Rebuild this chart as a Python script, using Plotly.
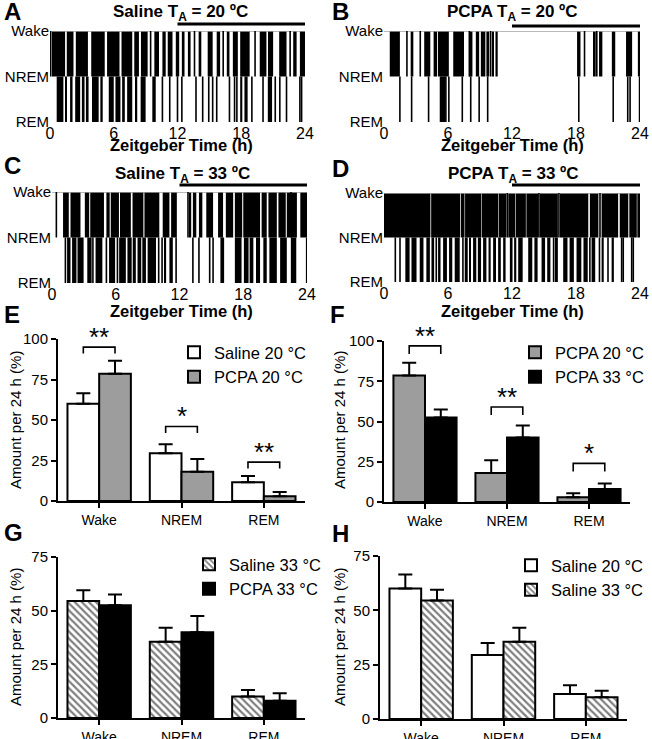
import plotly.graph_objects as go

W, H = 652, 739
FONT = "Arial, Liberation Sans, sans-serif"

# ---------------- hypnogram data (Zeitgeber hours) ----------------
HOURS = [0, 6, 12, 18, 24]
DARK_PHASE = [12, 24]
LEVELS = {"REM": 0, "NREM": 1, "Wake": 2}

# A: saline, 20 C
a_wn_blocks = [(0.16, 1.42), (1.58, 2.21), (2.43, 3.57), (3.88, 5.15), (5.37, 6.54), (6.73, 7.74),
               (7.93, 8.37), (8.56, 9.19), (9.82, 10.26), (10.58, 10.89), (11.08, 11.53), (11.84, 12.16),
               (12.41, 12.66), (12.98, 13.23), (13.99, 14.24), (14.84, 15.31), (15.69, 16.01),
               (16.64, 16.89), (17.21, 17.68), (17.9, 18.79), (19.74, 20.37), (20.52, 21.0),
               (21.57, 22.26), (22.89, 23.21), (23.52, 24.0)]
a_wn_lines = [0.05, 9.47, 13.6, 16.3, 19.3, 22.6]
a_rem_blocks = [(0.63, 1.26), (1.42, 1.58), (1.89, 2.12), (2.37, 2.84), (3.0, 3.25), (3.38, 3.63),
                (3.95, 4.58), (4.74, 4.96), (5.53, 6.0), (6.16, 6.63), (6.79, 7.04), (7.26, 7.74),
                (8.05, 8.21), (8.53, 9.0), (9.63, 9.95), (17.9, 18.1), (18.3, 18.6), (20.5, 20.9)]
a_rem_lines = [10.58, 11.27, 12.0, 12.41, 13.74, 14.37, 14.94, 15.31, 15.69, 16.89, 17.37, 17.59,
               19.0, 20.05, 21.2, 21.63, 22.26, 23.52, 23.68]

# B: PCPA, 20 C
b_wn_blocks = [(0.54, 1.49), (2.5, 2.75), (3.77, 4.34), (4.65, 4.97), (5.05, 6.08), (6.49, 7.5),
               (7.97, 8.29), (8.61, 8.92), (9.08, 9.5), (9.6, 9.87), (10.19, 10.3), (10.45, 10.66),
               (18.1, 18.42), (19.68, 19.85), (20.16, 20.47), (21.36, 21.68), (22.69, 23.26), (23.8, 24.0)]
b_wn_lines = [2.15, 3.4, 8.0, 10.0, 18.8, 19.95]
b_rem_blocks = []
b_rem_lines = [1.49, 2.59, 4.18, 5.3, 5.4, 5.5, 5.6, 5.7, 5.8, 6.08, 7.34, 8.13, 8.92, 9.72,
               18.26, 21.49, 22.85, 23.07, 23.96]

# C: saline, 33 C
c_wn_blocks = [(1.04, 1.58), (1.74, 2.68), (3.09, 3.5), (3.6, 4.89), (5.12, 5.43), (5.53, 6.3),
               (6.4, 7.42), (7.58, 8.6), (8.7, 10.1), (10.42, 11.05), (11.21, 11.75), (12.95, 13.1),
               (13.26, 13.58), (13.83, 14.15), (14.52, 15.16), (15.63, 16.1), (16.36, 17.05),
               (17.21, 17.9), (18.0, 19.58), (19.73, 20.21), (20.37, 21.16), (21.31, 22.0),
               (22.1, 23.05), (23.37, 24.0)]
c_wn_lines = [0.41, 12.8, 22.5]
c_rem_blocks = [(1.42, 1.74), (1.89, 2.3), (2.4, 2.84), (3.32, 3.73), (4.1, 4.74), (5.37, 5.94),
                (6.32, 6.95), (7.1, 7.5), (7.6, 7.89), (8.05, 8.4), (8.5, 8.84), (9.0, 9.79),
                (10.58, 10.74), (11.05, 11.37), (15.85, 16.2), (17.21, 17.84), (18.06, 18.5),
                (18.6, 18.95), (19.2, 19.58), (19.89, 20.21), (20.46, 21.16), (21.47, 22.1), (22.48, 22.99)]
c_rem_lines = [1.26, 2.9, 3.85, 5.12, 6.16, 10.04, 10.36, 11.68, 13.26, 13.83, 14.84, 15.16, 23.97]

# D: PCPA, 33 C
d_wn_blocks = [(0.0, 4.35), (4.42, 7.15), (7.22, 7.55), (7.6, 9.1), (9.15, 10.7), (10.75, 11.45),
               (11.65, 12.3), (12.35, 13.3), (13.35, 14.45), (14.6, 16.3), (16.5, 19.15), (19.3, 20.1),
               (20.4, 21.95), (22.1, 22.9), (23.0, 23.7), (23.75, 24.0)]
d_wn_lines = [11.55, 14.52, 16.4, 20.25]
d_rem_blocks = [(2.0, 2.4), (2.72, 3.05), (3.35, 3.7), (3.97, 4.3), (4.45, 4.7), (5.07, 5.3),
                (5.54, 5.9), (6.1, 6.4), (6.63, 7.1), (7.57, 7.85), (8.0, 8.15), (8.35, 8.65),
                (8.8, 9.1), (9.29, 9.6), (9.8, 10.0), (10.23, 10.5), (10.7, 10.95), (11.17, 11.4),
                (11.8, 12.05), (12.2, 12.4), (12.58, 13.0), (13.52, 13.9), (14.1, 14.4), (14.77, 15.1),
                (15.3, 15.6), (16.02, 16.3), (16.8, 17.2), (17.4, 17.8), (18.05, 18.5), (18.7, 19.1),
                (19.46, 19.8), (20.4, 20.6), (21.34, 21.55)]
d_rem_lines = [1.06, 1.5, 2.65, 4.9, 7.4, 15.9, 19.3, 20.2, 21.0, 22.28, 22.43, 23.22, 23.37]

# ---------------- percent of 24 h (mean, SEM) ----------------
states = ["Wake", "NREM", "REM"]
saline20 = [60, 29.5, 11.5]
saline20_sem = [6.5, 5.5, 4]
pcpa20 = [78.5, 18, 3]
pcpa20_sem = [8, 8, 2.5]
saline33 = [54.5, 35.5, 10]
saline33_sem = [5, 6.5, 3]
pcpa33 = [52.5, 40, 8]
pcpa33_sem = [5, 7.5, 3.5]

# significance brackets: (state index, bracket height, label)
e_sig = [(0, 95, "**"), (1, 46, "*"), (2, 24, "**")]
f_sig = [(0, 97, "**"), (1, 59, "**"), (2, 24, "*")]

BARGAP = 0.23
GRAY = "#9d9d9d"


def fx(p):
    return p / W


def fy(p):
    return 1 - p / H


fig = go.Figure()


def add_hypnogram(n, wn_blocks, wn_lines, rem_blocks, rem_lines):
    xa, ya = "x%d" % n, "y%d" % n
    wake, nrem, rem = LEVELS["Wake"], LEVELS["NREM"], LEVELS["REM"]
    fig.add_trace(go.Scatter(x=[HOURS[0], HOURS[-1]], y=[wake, wake], mode="lines",
                             line=dict(color="#a0a0a0", width=1.5), cliponaxis=False,
                             xaxis=xa, yaxis=ya, showlegend=False, hoverinfo="skip"))
    blocks = [(s, e, nrem, wake) for s, e in wn_blocks] + [(s, e, rem, nrem) for s, e in rem_blocks]
    fig.add_trace(go.Bar(x=[(b[0] + b[1]) / 2 for b in blocks], width=[b[1] - b[0] for b in blocks],
                         base=[b[2] for b in blocks], y=[b[3] - b[2] for b in blocks],
                         marker=dict(color="black", line_width=0), xaxis=xa, yaxis=ya,
                         showlegend=False, hoverinfo="skip"))
    xs, ys = [], []
    for t in wn_lines:
        xs += [t, t, None]
        ys += [nrem, wake, None]
    for t in rem_lines:
        xs += [t, t, None]
        ys += [rem, nrem, None]
    fig.add_trace(go.Scatter(x=xs, y=ys, mode="lines", line=dict(color="black", width=1.6),
                             xaxis=xa, yaxis=ya, showlegend=False, hoverinfo="skip"))


add_hypnogram(1, a_wn_blocks, a_wn_lines, a_rem_blocks, a_rem_lines)
add_hypnogram(2, b_wn_blocks, b_wn_lines, b_rem_blocks, b_rem_lines)
add_hypnogram(3, c_wn_blocks, c_wn_lines, c_rem_blocks, c_rem_lines)
add_hypnogram(4, d_wn_blocks, d_wn_lines, d_rem_blocks, d_rem_lines)

STYLES = {
    "white": dict(color="white", line=dict(color="black", width=2)),
    "gray": dict(color=GRAY, line=dict(color="black", width=2)),
    "black": dict(color="black", line=dict(color="black", width=2)),
    "hatch": dict(color="white", line=dict(color="black", width=2),
                  pattern=dict(shape="\\", fgcolor="black", bgcolor="white", size=5, solidity=0.45)),
}


def add_bars(n, series, legend):
    xa, ya = "x%d" % n, "y%d" % n
    for name, vals, sem, style in series:
        fig.add_trace(go.Bar(x=list(range(len(states))), y=vals, name=name, marker=STYLES[style],
                             error_y=dict(type="data", array=sem, arrayminus=[0] * len(sem),
                                          symmetric=False, color="black", thickness=2, width=7),
                             xaxis=xa, yaxis=ya, legend=legend))


def add_sig(n, sigs, drop):
    xa, ya = "x%d" % n, "y%d" % n
    half = (1 - BARGAP) / 4
    for i, top, label in sigs:
        fig.add_trace(go.Scatter(x=[i - half, i - half, i + half, i + half],
                                 y=[top - drop, top, top, top - drop], mode="lines",
                                 line=dict(color="black", width=1.6), xaxis=xa, yaxis=ya,
                                 showlegend=False, hoverinfo="skip", cliponaxis=False))
        fig.add_annotation(x=i, y=top, xref=xa, yref=ya, text=label, showarrow=False,
                           xanchor="center", yanchor="bottom", yshift=-7,
                           font=dict(size=26, color="black"))


add_bars(5, [("Saline 20 °C", saline20, saline20_sem, "white"),
             ("PCPA 20 °C", pcpa20, pcpa20_sem, "gray")], "legend")
add_bars(6, [("PCPA 20 °C", pcpa20, pcpa20_sem, "gray"),
             ("PCPA 33 °C", pcpa33, pcpa33_sem, "black")], "legend2")
add_bars(7, [("Saline 33 °C", saline33, saline33_sem, "hatch"),
             ("PCPA 33 °C", pcpa33, pcpa33_sem, "black")], "legend3")
add_bars(8, [("Saline 20 °C", saline20, saline20_sem, "white"),
             ("Saline 33 °C", saline33, saline33_sem, "hatch")], "legend4")
add_sig(5, e_sig, 4)
add_sig(6, f_sig, 5)

# ---------------- axes ----------------
hyp_dom = {1: ((50, 305), (31, 122)), 2: ((384, 640), (31, 122)),
           3: ((52, 307), (192, 283)), 4: ((384, 640), (193, 282))}
bar_dom = {5: ((58, 305), (339, 501), 100), 6: ((384, 630), (341, 502), 100),
           7: ((58, 305), (557, 718), 75), 8: ((380, 627), (556, 719), 75)}

layout = dict(width=W, height=H, margin=dict(l=0, r=0, t=0, b=0, autoexpand=False),
              plot_bgcolor="white", paper_bgcolor="white", font=dict(family=FONT, color="black"),
              barmode="group", bargap=BARGAP, bargroupgap=0, showlegend=True)

for n, ((x0, x1), (y0, y1)) in hyp_dom.items():
    sx = "" if n == 1 else str(n)
    layout["xaxis" + sx] = dict(domain=[fx(x0), fx(x1)], anchor="y" + sx, range=[HOURS[0], HOURS[-1]],
                                tickvals=HOURS, showgrid=False, zeroline=False, showline=False,
                                ticks="", tickfont=dict(size=16), ticklabelstandoff=0)
    layout["yaxis" + sx] = dict(domain=[fy(y1), fy(y0)], anchor="x" + sx, range=[0, 2],
                                tickvals=list(LEVELS.values()), ticktext=list(LEVELS.keys()),
                                showgrid=False, zeroline=False, showline=False, ticks="",
                                tickfont=dict(size=15))

for n, ((x0, x1), (y0, y1), top) in bar_dom.items():
    sx = str(n)
    layout["xaxis" + sx] = dict(domain=[fx(x0), fx(x1)], anchor="y" + sx, range=[-0.5, 2.5],
                                tickvals=list(range(len(states))), ticktext=states, showgrid=False,
                                zeroline=False, showline=True, linecolor="black", linewidth=2,
                                ticks="outside", ticklen=5, tickwidth=2, tickcolor="black",
                                tickfont=dict(size=14))
    layout["yaxis" + sx] = dict(domain=[fy(y1), fy(y0)], anchor="x" + sx, range=[0, top], dtick=25,
                                showgrid=False, zeroline=False, showline=True, linecolor="black",
                                linewidth=2, ticks="outside", ticklen=5, tickwidth=2,
                                tickcolor="black", tickfont=dict(size=15))

leg = dict(font=dict(size=16.5), bgcolor="rgba(0,0,0,0)", xanchor="left", yanchor="top",
           tracegroupgap=0, itemwidth=30)
layout["legend"] = dict(leg, x=fx(174), y=fy(335))
layout["legend2"] = dict(leg, x=fx(515), y=fy(335))
layout["legend3"] = dict(leg, x=fx(189), y=fy(547))
layout["legend4"] = dict(leg, x=fx(511), y=fy(548))

fig.update_layout(**layout)

# ---------------- panel text ----------------
def note(x, y, text, size, **kw):
    opts = dict(xanchor="center", yanchor="middle")
    opts.update(kw)
    fig.add_annotation(x=fx(x), y=fy(y), xref="paper", yref="paper", showarrow=False,
                       text=text, font=dict(size=size), **opts)


titles = [("Saline", "20", 180, 13), ("PCPA", "20", 512, 13), ("Saline", "33", 182, 175), ("PCPA", "33", 513, 175)]
for drug, temp, x, y in titles:
    note(x, y, "<b>%s T<sub>A</sub> = %s ºC</b>" % (drug, temp), 17)

for x, y in [(181, 145), (512, 145), (181, 311), (512, 311)]:
    note(x, y, "<b>Zeitgeber Time (h)</b>", 16.5)

for x, y in [(15, 420), (339, 420), (15, 637), (339, 637)]:
    note(x, y, "Amount per 24 h (%)", 15, textangle=-90)

# lights-off bars over the hypnograms
for n, y in [(1, 24), (2, 26), (3, 185), (4, 185)]:
    fig.add_shape(type="line", xref="x" + ("" if n == 1 else str(n)), yref="paper",
                  x0=DARK_PHASE[0], x1=DARK_PHASE[1], y0=fy(y), y1=fy(y),
                  line=dict(color="black", width=3))

letters = [("A", 2, 12), ("B", 330, 11), ("C", 2, 166), ("D", 330, 168),
           ("E", 2, 315), ("F", 328, 315), ("G", 2, 532), ("H", 330, 533)]
for t, x, y in letters:
    note(x, y, "<b>%s</b>" % t, 24, xanchor="left")

# the page body has a default 8px margin; drop it so the figure fills the window
fig.write_html("out.html", config={"displayModeBar": False},
               post_script="document.body.style.margin='0';")
